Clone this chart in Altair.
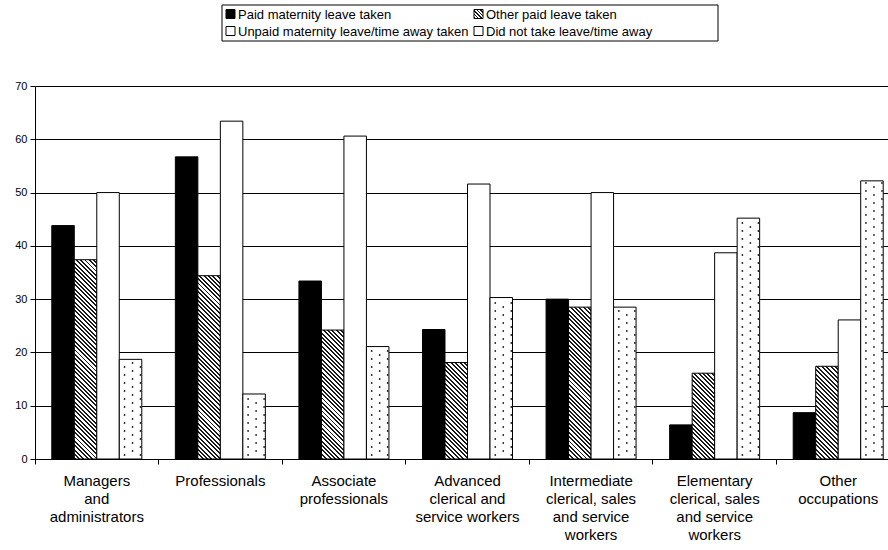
import math
import altair as alt

# ---------------- data ----------------
categories = [
    "Managers\nand\nadministrators",
    "Professionals",
    "Associate\nprofessionals",
    "Advanced\nclerical and\nservice workers",
    "Intermediate\nclerical, sales\nand service\nworkers",
    "Elementary\nclerical, sales\nand service\nworkers",
    "Other\noccupations",
]
series = [
    "Paid maternity leave taken",
    "Other paid leave taken",
    "Unpaid maternity leave/time away taken",
    "Did not take leave/time away",
]
paid_maternity = [43.8, 56.7, 33.4, 24.3, 30.0, 6.4, 8.7]
other_paid = [37.4, 34.4, 24.2, 18.1, 28.5, 16.1, 17.4]
unpaid = [50.0, 63.4, 60.6, 51.6, 50.0, 38.7, 26.1]
no_leave = [18.7, 12.2, 21.1, 30.3, 28.5, 45.2, 52.2]
y_ticks = [0, 10, 20, 30, 40, 50, 60, 70]

# ---------------- layout ----------------
PAD_L, PAD_T, PAD_B = 35, 86, 91
W_PLOT, H_PLOT = 888 - PAD_L, 550 - PAD_T - PAD_B
BAND_RANGE = 865
STEP = BAND_RANGE / len(categories)
OUTER = 0.746
BAR_W = STEP / (4 + 2 * OUTER)
PX_PER_UNIT = H_PLOT / 70.0
FONT = "Liberation Sans, Arial, Helvetica, sans-serif"


def hatch(w, h, period=3.1, dark="#1a1a1a", frac=0.45):
    """Diagonal '\\' stripes as a hard-stop linear gradient (bbox units)."""
    s = (w + h) / (w * w + h * h)
    n = max(1, int(round((w + h) / math.sqrt(2) / period)))
    stops = []
    for k in range(n):
        a, b, c = k / n, (k + frac) / n, (k + 1) / n
        stops += [
            {"offset": a, "color": dark},
            {"offset": b, "color": dark},
            {"offset": b, "color": "white"},
            {"offset": c, "color": "white"},
        ]
    return {"gradient": "linear", "x1": 0, "y1": 1, "x2": s * w, "y2": 1 - s * h,
            "stops": stops}


records = []
for i, cat in enumerate(categories):
    for sname, vals in zip(series, [paid_maternity, other_paid, unpaid, no_leave]):
        v = vals[i]
        if sname == series[0]:
            fill = "black"
        elif sname == series[1]:
            fill = hatch(BAR_W, v * PX_PER_UNIT)
        else:
            fill = "white"
        records.append({"category": cat, "series": sname, "value": v, "fill": fill})

x_enc = alt.X(
    "category:N",
    sort=categories,
    scale=alt.Scale(domain=categories, range=[0, BAND_RANGE], paddingInner=0, paddingOuter=0),
    axis=alt.Axis(
        title=None, grid=False, bandPosition=0, tickSize=5, tickColor="black",
        domainColor="black", labelAngle=0, labelAlign="center", labelBaseline="top",
        labelPadding=9, labelFont=FONT, labelFontSize=15,
        labelLineHeight=18, labelColor="black", labelOverlap=False, labelFlush=False,
        labelBound=False, labelExpr="split(datum.label, '\\n')",
    ),
)

bars = alt.Chart(alt.Data(values=records)).mark_bar(stroke="black", strokeWidth=1).encode(
    x=x_enc,
    xOffset=alt.XOffset("series:N", sort=series,
                        scale=alt.Scale(domain=series, paddingInner=0, paddingOuter=OUTER)),
    y=alt.Y("value:Q", stack=None,
            scale=alt.Scale(domain=[0, 70], nice=False, zero=True),
            axis=alt.Axis(title=None, values=y_ticks, tickSize=5, tickColor="black",
                          domainColor="black", gridColor="black", gridOpacity=1,
                          gridWidth=1, labelFont=FONT, labelFontSize=11,
                          labelColor="black", labelPadding=3)),
    fill=alt.Fill("fill:N", scale=None),
)

# dotted texture for the "did not take leave" bars
center_off = (OUTER + 3.5) * BAR_W - STEP / 2
dot_step = 8 / PX_PER_UNIT
dot_layers = []
for col_off, phase in [(-6, 0.5), (2, 1.0), (10, 0.5)]:
    pts = []
    for i, cat in enumerate(categories):
        k = 0
        while True:
            yv = (phase + k) * dot_step
            if yv > no_leave[i] - 0.35:
                break
            pts.append({"category": cat, "y": yv})
            k += 1
    dot_layers.append(
        alt.Chart(alt.Data(values=pts)).mark_point(
            filled=True, shape="circle", size=3.2, color="#222", opacity=1,
            xOffset=center_off + col_off,
        ).encode(x=alt.X("category:N", sort=categories), y=alt.Y("y:Q"))
    )

# ---------------- legend ----------------
one = alt.Data(values=[{"a": 1}])


def ax(px):
    return px - PAD_L


def ay(py):
    return py - PAD_T


legend_layers = [
    alt.Chart(one).mark_rect(fill="white", stroke="black", strokeWidth=1).encode(
        x=alt.value(ax(222)), x2=alt.value(ax(718)), y=alt.value(ay(5)), y2=alt.value(ay(41)))
]
positions = [(226, 14), (474, 14), (226, 31), (474, 31)]
sw_fills = ["black", hatch(9, 9, period=2.4), "white", "white"]
for sname, (lx, ly), f in zip(series, positions, sw_fills):
    legend_layers.append(
        alt.Chart(one).mark_rect(fill=f, stroke="black", strokeWidth=1).encode(
            x=alt.value(ax(lx)), x2=alt.value(ax(lx + 9)),
            y=alt.value(ay(ly - 4.5)), y2=alt.value(ay(ly + 4.5)))
    )
    legend_layers.append(
        alt.Chart(one).mark_text(align="left", baseline="middle", font=FONT,
                                 fontSize=13, color="black").encode(
            x=alt.value(ax(lx + 12)), y=alt.value(ay(ly + 0.5)), text=alt.value(sname))
    )

chart = alt.layer(bars, *dot_layers, *legend_layers).properties(
    width=W_PLOT, height=H_PLOT,
    autosize=alt.AutoSizeParams(type="none"),
    padding={"left": PAD_L, "top": PAD_T, "right": 0, "bottom": PAD_B},
    background="white",
).configure_view(stroke=None)

chart.save("out.html", embed_options={"renderer": "svg", "actions": False})
